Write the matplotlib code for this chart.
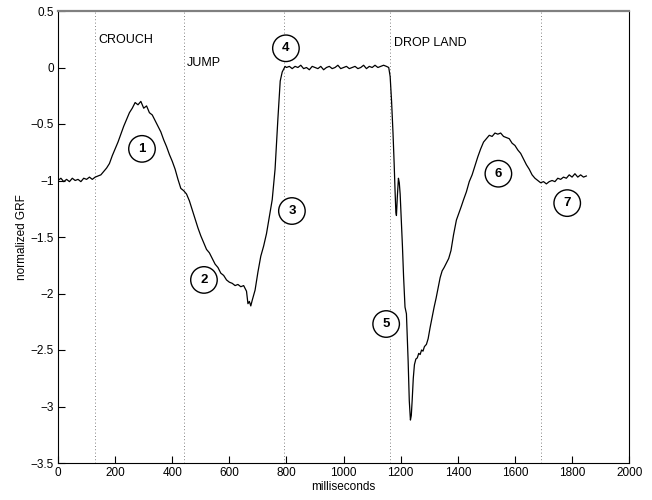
import matplotlib.pyplot as plt

# ground reaction force trace
time_ms = [0, 10, 20, 30, 40, 50, 60, 70, 80, 90, 100, 110, 120, 130,
           140, 150, 160, 170, 180, 190, 200, 210, 220, 230, 240, 250, 260,
           270, 280, 290, 300, 310, 320, 330, 340, 350, 360, 370, 380, 390,
           400, 410, 420, 430, 440, 450, 460, 470, 480, 490, 500, 510, 520,
           530, 540, 550, 560, 570, 580, 590, 600, 610, 620, 630, 640, 650,
           660, 665, 670, 675, 680, 690, 700, 710, 720, 730, 740, 750, 760,
           770, 778, 785, 795,
           800, 810, 820, 830, 840, 850, 860, 870, 880, 890, 900, 910, 920,
           930, 940, 950, 960, 970, 980, 990, 1000, 1010, 1020, 1030, 1040,
           1050, 1060, 1070, 1080, 1090, 1100, 1110, 1120, 1130, 1140, 1150,
           1158, 1163, 1168, 1173, 1177, 1180, 1183, 1185, 1188, 1192, 1195,
           1198, 1202, 1206, 1210, 1215, 1220, 1226, 1230, 1234, 1237, 1240,
           1244, 1248, 1253, 1258, 1263, 1268, 1273, 1278, 1283, 1290, 1296,
           1303, 1310, 1317, 1324, 1331, 1338, 1345, 1352, 1360, 1368, 1376,
           1385, 1395, 1405, 1412, 1420, 1430, 1440, 1450, 1460, 1470, 1480,
           1490, 1500, 1510, 1520, 1530, 1540, 1550, 1560, 1570, 1580, 1590,
           1600, 1610, 1620, 1630, 1640, 1650, 1660, 1670, 1680, 1690, 1700,
           1710, 1720, 1730, 1740, 1750, 1760, 1770, 1780, 1790, 1800, 1810,
           1820, 1830, 1840, 1850]
grf = [-1.00, -0.98, -1.01, -0.99, -1.01, -0.98, -1.00, -0.99, -1.01, -0.98,
       -0.99, -0.97, -0.99, -0.97,
       -0.96, -0.95, -0.92, -0.89, -0.85, -0.78, -0.72, -0.66, -0.59, -0.52,
       -0.46, -0.40, -0.36, -0.31, -0.33, -0.30, -0.36, -0.34, -0.40, -0.42,
       -0.47, -0.52, -0.57, -0.64, -0.70, -0.77, -0.83, -0.90, -0.99, -1.07,
       -1.09, -1.12, -1.18, -1.26, -1.34, -1.42, -1.49, -1.55, -1.61, -1.64,
       -1.69, -1.74, -1.77, -1.82, -1.84, -1.88, -1.90, -1.91, -1.93, -1.92,
       -1.94, -1.93, -1.98, -2.09, -2.07, -2.11, -2.06, -1.97, -1.81, -1.67,
       -1.58, -1.47, -1.32, -1.17, -0.90, -0.45, -0.12, -0.04, 0.01,
       0.00, 0.01, -0.01, 0.01, 0.00, 0.02, -0.01, 0.00, -0.02, 0.01, 0.00,
       -0.01, 0.01, -0.02, 0.00, 0.01, -0.01, 0.00, 0.02, -0.01, 0.00, 0.01,
       -0.01, 0.00, 0.01, -0.01, 0.00, 0.02, -0.01, 0.01, 0.00, 0.02, 0.00,
       0.01, 0.02, 0.01,
       0.00, -0.08, -0.30, -0.58, -0.85, -1.08, -1.28, -1.31, -1.15, -0.98,
       -1.02, -1.12, -1.35, -1.58, -1.85, -2.12, -2.18, -2.60, -2.95, -3.12,
       -3.08, -2.95, -2.75, -2.63, -2.58, -2.57, -2.53, -2.54, -2.50, -2.51,
       -2.47, -2.45, -2.40, -2.30, -2.21, -2.12, -2.04, -1.95, -1.86, -1.80,
       -1.77, -1.73, -1.69, -1.62, -1.48, -1.35, -1.28, -1.23, -1.17, -1.10,
       -1.01, -0.95, -0.87, -0.79, -0.72, -0.66, -0.63, -0.60, -0.61, -0.58,
       -0.59, -0.58, -0.61, -0.62, -0.63, -0.67, -0.69, -0.73, -0.76, -0.81,
       -0.86, -0.90, -0.95, -0.98, -1.00, -1.02, -1.01, -1.03, -1.01, -1.00,
       -1.01, -0.98, -0.99, -0.97, -0.98, -0.95, -0.97, -0.94, -0.97, -0.95,
       -0.97, -0.96]

# phase boundaries (ms) and phase names
phase_lines = [130, 440, 790, 1162, 1690]
phase_names = ["CROUCH", "JUMP", "DROP LAND"]
phase_x = [140, 452, 1177]
phase_y = [0.24, 0.04, 0.22]

# numbered markers
marker_ids = ["1", "2", "3", "4", "5", "6", "7"]
marker_x = [294, 511, 819, 798, 1149, 1542, 1783]
marker_y = [-0.72, -1.88, -1.27, 0.17, -2.27, -0.94, -1.20]

plt.rcParams['font.family'] = ['Liberation Sans', 'DejaVu Sans']

fig = plt.figure(figsize=(6.52, 5.0), dpi=100)
ax = fig.add_axes([0.089, 0.074, 0.876, 0.904])

for xv in phase_lines:
    ax.axvline(xv, color='0.35', linestyle=(0, (1, 3)), linewidth=0.6, zorder=1)

ax.plot(time_ms, grf, color='k', linewidth=0.9, zorder=2)

for name, xv, yv in zip(phase_names, phase_x, phase_y):
    ax.text(xv, yv, name, fontsize=9, ha='left', va='center')

for mid, xv, yv in zip(marker_ids, marker_x, marker_y):
    ax.text(xv, yv, mid, fontsize=9.5, fontweight='bold', ha='center', va='center',
            zorder=3,
            bbox=dict(boxstyle='circle,pad=0.55', fc='white', ec='k', lw=1.0))

ax.set_xlim(0, 2000)
ax.set_ylim(-3.5, 0.5)
ax.set_xticks(range(0, 2001, 200))
ax.set_yticks([-3.5, -3, -2.5, -2, -1.5, -1, -0.5, 0, 0.5])
ax.set_yticklabels(['\u22123.5', '\u22123', '\u22122.5', '\u22122', '\u22121.5',
                    '\u22121', '\u22120.5', '0', '0.5'])
ax.tick_params(direction='in', length=5, width=0.8, labelsize=8.5, pad=3)
ax.set_xlabel("milliseconds", fontsize=8.5, labelpad=1)
ax.set_ylabel("normalized GRF", fontsize=8.5, labelpad=2)

for side in ['left', 'bottom', 'right']:
    ax.spines[side].set_linewidth(0.8)
ax.spines['top'].set_color('0.5')
ax.spines['top'].set_linewidth(1.6)

fig.savefig("out.png", dpi=100)
